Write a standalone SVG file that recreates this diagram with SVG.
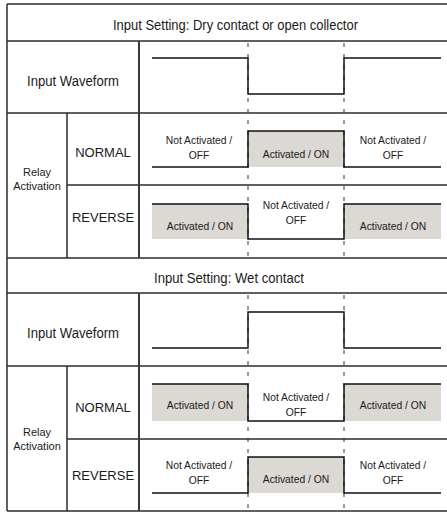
<svg xmlns="http://www.w3.org/2000/svg" width="447" height="513" viewBox="0 0 447 513">
<style>
.grid{stroke:#2b2b2b;stroke-width:1.5;fill:none}
.col{stroke:#3a3a3a;stroke-width:2;fill:none}
.wave{stroke:#111;stroke-width:1.5;fill:none}
.dash{stroke:#333;stroke-width:1;stroke-dasharray:4 7;fill:none}
.on{fill:#dcd8d4;stroke:none}
.t{font-family:"Liberation Sans",Arial,sans-serif;fill:#1a1a1a}
.title{font-size:15px}
.lbl{font-size:14px}
.row{font-size:13px}
.small{font-size:11px}
.cell{font-size:10.3px;text-anchor:middle}
.mid{text-anchor:middle}
</style>
<rect x="0" y="0" width="447" height="513" fill="#fff"/>

<!-- grey activated regions -->
<g id="fills">
<rect class="on" x="248" y="131" width="96" height="36"/>
<rect class="on" x="152" y="204" width="96" height="35"/>
<rect class="on" x="344" y="204" width="97" height="35"/>
<rect class="on" x="152" y="384" width="96" height="37"/>
<rect class="on" x="344" y="384" width="97" height="37"/>
<rect class="on" x="248" y="457" width="96" height="36"/>
</g>

<!-- table grid -->
<g id="grid">
<line class="grid" x1="7" y1="4" x2="447" y2="4"/>
<line class="grid" x1="7" y1="4" x2="7" y2="511"/>
<line class="grid" x1="7" y1="41" x2="447" y2="41"/>
<line class="grid" x1="7" y1="113" x2="447" y2="113"/>
<line class="grid" x1="67" y1="185" x2="447" y2="185"/>
<line class="grid" x1="7" y1="258" x2="447" y2="258"/>
<line class="grid" x1="7" y1="293" x2="447" y2="293"/>
<line class="grid" x1="7" y1="366" x2="447" y2="366"/>
<line class="grid" x1="67" y1="439" x2="447" y2="439"/>
<line class="grid" x1="7" y1="511" x2="447" y2="511"/>
<line class="grid" x1="67" y1="113" x2="67" y2="258"/>
<line class="grid" x1="67" y1="366" x2="67" y2="511"/>
<line class="col" x1="139" y1="41" x2="139" y2="258"/>
<line class="col" x1="139" y1="293" x2="139" y2="511"/>
</g>

<!-- timing lines -->
<g id="connectors">
<line class="dash" x1="248" y1="43" x2="248" y2="257"/>
<line class="dash" x1="344" y1="43" x2="344" y2="257"/>
<line class="dash" x1="248" y1="295" x2="248" y2="510"/>
<line class="dash" x1="344" y1="295" x2="344" y2="510"/>
<polyline class="wave" points="152,58 248,58 248,94 344,94 344,58 441,58"/>
<polyline class="wave" points="152,167 248,167 248,131 344,131 344,167 441,167"/>
<polyline class="wave" points="152,204 248,204 248,239 344,239 344,204 441,204"/>
<polyline class="wave" points="152,348 248,348 248,312 344,312 344,348 441,348"/>
<polyline class="wave" points="152,384 248,384 248,421 344,421 344,384 441,384"/>
<polyline class="wave" points="152,493 248,493 248,457 344,457 344,493 441,493"/>
</g>

<!-- section 1 -->
<g id="title1"><text class="t title" x="113" y="29.5" textLength="245" lengthAdjust="spacingAndGlyphs">Input Setting: Dry contact or open collector</text></g>
<g id="waveform1"><text class="t lbl" x="27" y="86" textLength="92" lengthAdjust="spacingAndGlyphs">Input  Waveform</text></g>
<g id="relay1"><text class="t small mid" x="37" y="175.5">Relay</text><text class="t small mid" x="37" y="190">Activation</text></g>
<g id="normal1"><text class="t row mid" x="103" y="157">NORMAL</text></g>
<g id="reverse1"><text class="t row mid" x="103" y="221.5">REVERSE</text></g>
<g id="n1a"><text class="t cell" x="199" y="143.5">Not Activated /</text><text class="t cell" x="199" y="159">OFF</text></g>
<g id="n1b"><text class="t cell" x="296" y="158">Activated / ON</text></g>
<g id="n1c"><text class="t cell" x="393" y="143.5">Not Activated /</text><text class="t cell" x="393" y="159">OFF</text></g>
<g id="r1a"><text class="t cell" x="200" y="229.5">Activated / ON</text></g>
<g id="r1b"><text class="t cell" x="296" y="208.5">Not Activated /</text><text class="t cell" x="296" y="223.5">OFF</text></g>
<g id="r1c"><text class="t cell" x="393" y="229.5">Activated / ON</text></g>

<!-- section 2 -->
<g id="title2"><text class="t title" x="154" y="283" textLength="150" lengthAdjust="spacingAndGlyphs">Input Setting:  Wet contact</text></g>
<g id="waveform2"><text class="t lbl" x="27" y="337.5" textLength="92" lengthAdjust="spacingAndGlyphs">Input  Waveform</text></g>
<g id="relay2"><text class="t small mid" x="37" y="436">Relay</text><text class="t small mid" x="37" y="450">Activation</text></g>
<g id="normal2"><text class="t row mid" x="103" y="411.5">NORMAL</text></g>
<g id="reverse2"><text class="t row mid" x="103" y="480">REVERSE</text></g>
<g id="n2a"><text class="t cell" x="200" y="409">Activated / ON</text></g>
<g id="n2b"><text class="t cell" x="296" y="400.5">Not Activated /</text><text class="t cell" x="296" y="415.5">OFF</text></g>
<g id="n2c"><text class="t cell" x="393" y="409">Activated / ON</text></g>
<g id="r2a"><text class="t cell" x="199" y="469">Not Activated /</text><text class="t cell" x="199" y="484">OFF</text></g>
<g id="r2b"><text class="t cell" x="296" y="482.5">Activated / ON</text></g>
<g id="r2c"><text class="t cell" x="393" y="469">Not Activated /</text><text class="t cell" x="393" y="484">OFF</text></g>
</svg>
